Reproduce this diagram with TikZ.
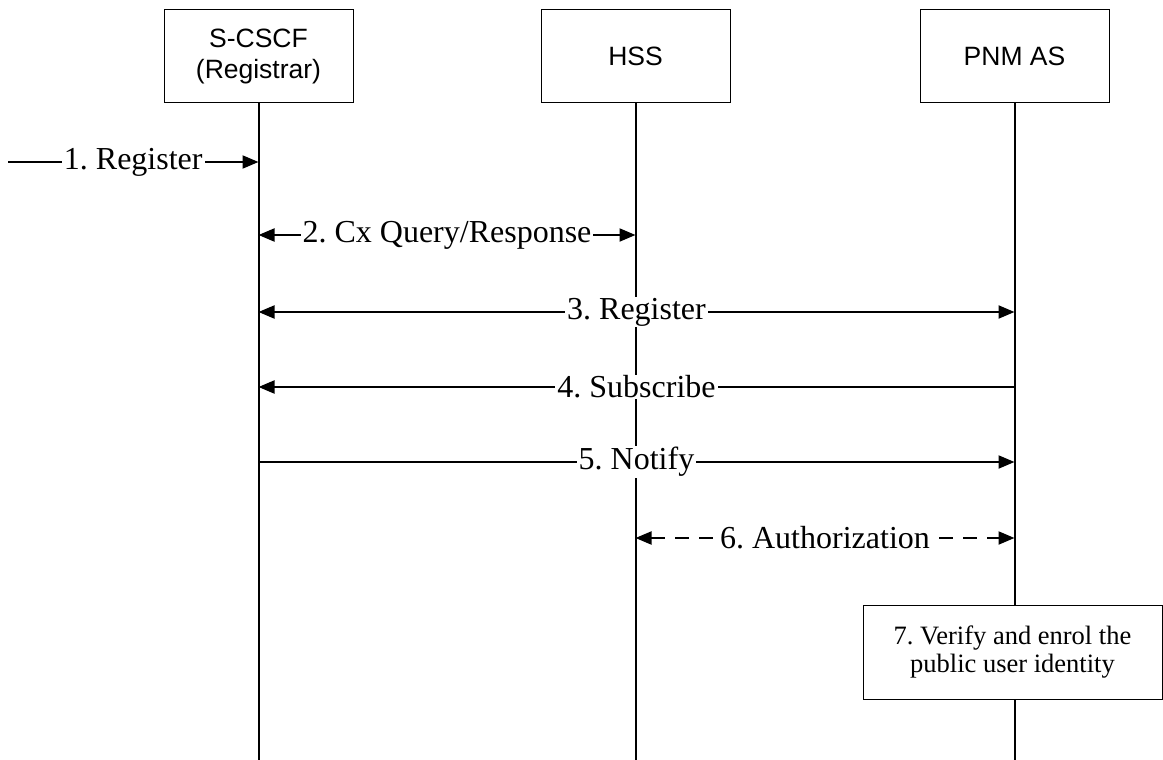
\documentclass[tikz,border=0pt]{standalone}
\usepackage{fontspec}
\setmainfont{Liberation Serif}
\setsansfont{Liberation Sans}
\usetikzlibrary{arrows.meta,positioning}
\frenchspacing

\tikzset{
  entity/.style={draw, line width=1pt, fill=white, minimum width=189pt, minimum height=93pt,
    align=center, font=\sffamily\fontsize{26.5}{31}\selectfont},
  life/.style={line width=2pt},
  msg/.style={line width=2pt, -{Triangle[length=16pt,width=13pt]}},
  msgboth/.style={line width=2pt, {Triangle[length=16pt,width=13pt]}-{Triangle[length=16pt,width=13pt]}},
  lbl/.style={fill=white, inner xsep=2pt, inner ysep=1pt, font=\fontsize{32}{34}\selectfont},
  action/.style={draw, line width=1pt, fill=white, minimum width=299pt, minimum height=94pt,
    align=center, font=\fontsize{26.5}{28}\selectfont}
}

\begin{document}
\begin{tikzpicture}[x=1pt,y=-1pt]
  \useasboundingbox (0,0) rectangle (1163,760);

  % entities and lifelines
  \node[entity] (scscf) at (258.5,56.5) {S-CSCF\\(Registrar)};
  \node[entity] (hss) at (635.5,56.5) {HSS};
  \node[entity] (pnm) at (1014.5,56.5) {PNM AS};
  \coordinate (bottom) at (0,760);
  \foreach \n in {scscf,hss,pnm}
    \draw[life] (\n) -- (\n |- bottom);

  % message rows
  \coordinate (ue) at (8,162);
  \coordinate (r2) at (0,235);
  \coordinate (r3) at (0,312);
  \coordinate (r4) at (0,387);
  \coordinate (r5) at (0,462);
  \coordinate (r6) at (0,538);

  \draw[msg] (ue) -- (scscf |- ue) node[lbl, midway] {1. Register};
  \draw[msgboth] (scscf |- r2) -- (hss |- r2) node[lbl, midway] {2. Cx Query/Response};
  \draw[msgboth] (scscf |- r3) -- (pnm |- r3) node[lbl, midway] {3. Register};
  \draw[msg] (pnm |- r4) -- (scscf |- r4) node[lbl, midway] {4. Subscribe};
  \draw[msg] (scscf |- r5) -- (pnm |- r5) node[lbl, midway] {5. Notify};
  \draw[msgboth, dash pattern=on 14pt off 10pt] (hss |- r6) -- (pnm |- r6)
    node[lbl, midway] {6. Authorization};

  % local action at the PNM AS
  \node[action] (verify) at (1012.5,652) {7. Verify and enrol the\\public user identity};
\end{tikzpicture}
\end{document}
